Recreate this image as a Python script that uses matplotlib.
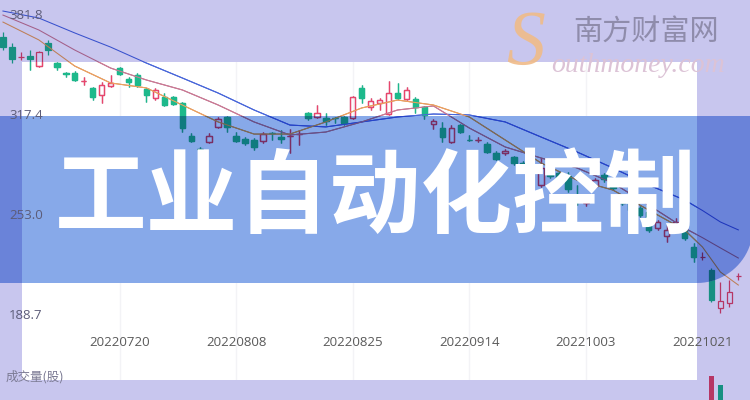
import numpy as np
import matplotlib
matplotlib.use('Agg')
import matplotlib.pyplot as plt
from matplotlib.patches import Rectangle, PathPatch
from matplotlib.path import Path
from matplotlib.colors import to_rgb

plt.rcParams['font.family'] = ['Open Sans', 'Noto Sans CJK SC', 'DejaVu Sans']

# 日K数据 (开, 高, 低, 收)
opens = [367.7, 361.2, 354.5, 355.5, 349.0, 363.8, 350.9, 344.2, 344.5, 339.2,
         334.9, 330.3, 336.1, 347.7, 340.6, 343.2, 334.2, 328.4, 329.1, 329.1,
         325.2, 304.0, 295.8, 300.1, 309.8, 316.2, 304.0, 302.0, 301.4, 300.7,
         306.0, 303.3, 303.8, 305.1, 318.8, 316.2, 315.5, 315.6, 316.2, 315.5,
         334.9, 322.6, 325.2, 318.1, 331.6, 327.8, 327.8, 322.6, 311.7, 309.1,
         300.1, 311.0, 301.6, 301.2, 298.8, 293.0, 293.0, 290.4, 286.6, 282.1,
         272.4, 282.1, 280.1, 278.2, 264.9, 260.7, 271.8, 278.9, 272.4, 264.7,
         260.8, 257.6, 255.0, 244.7, 239.6, 246.0, 243.5, 232.5, 226.0, 217.7,
         193.2, 196.5, 213.6]
highs = [370.9, 363.8, 358.0, 359.3, 358.7, 365.8, 351.6, 345.2, 345.8, 341.9,
         335.5, 338.7, 343.2, 348.4, 341.9, 344.5, 334.9, 334.9, 331.6, 329.7,
         325.8, 305.9, 296.9, 305.9, 316.2, 316.8, 306.5, 303.3, 302.7, 306.5,
         306.5, 307.8, 308.5, 307.8, 319.4, 323.9, 318.8, 316.2, 316.8, 329.7,
         336.8, 328.4, 328.4, 339.4, 338.1, 335.5, 329.1, 323.3, 314.9, 313.0,
         311.0, 311.7, 304.6, 303.3, 300.1, 294.3, 295.6, 291.1, 287.9, 286.6,
         289.8, 283.4, 281.4, 280.8, 272.4, 264.0, 276.9, 280.1, 274.3, 266.0,
         262.8, 258.9, 256.3, 250.0, 246.7, 251.1, 244.7, 235.1, 229.3, 219.0,
         210.0, 211.3, 215.8]
lows = [359.3, 350.9, 352.9, 346.4, 348.4, 356.1, 346.4, 341.9, 339.4, 336.8,
        327.1, 325.2, 335.5, 343.2, 335.5, 335.5, 325.8, 327.1, 323.3, 323.9,
        306.5, 300.1, 291.7, 299.5, 309.1, 306.5, 300.1, 298.2, 294.9, 299.5,
        301.4, 299.5, 293.0, 298.2, 314.3, 315.5, 311.0, 312.3, 311.0, 314.9,
        325.2, 320.7, 320.7, 317.5, 327.8, 327.1, 318.8, 314.9, 308.5, 300.1,
        299.5, 305.9, 300.7, 300.1, 293.0, 288.5, 291.7, 285.3, 282.1, 280.8,
        271.1, 276.9, 275.6, 267.9, 259.5, 258.9, 270.5, 274.3, 269.2, 259.5,
        255.0, 251.8, 242.2, 243.5, 235.7, 243.5, 237.0, 222.8, 224.1, 197.1,
        190.0, 193.9, 211.3]
closes = [361.2, 353.5, 354.9, 353.5, 358.0, 359.3, 348.4, 343.9, 340.0, 339.5,
          329.1, 336.8, 338.1, 343.9, 338.7, 336.8, 330.3, 333.6, 323.9, 324.6,
          309.1, 300.7, 295.5, 304.0, 314.9, 309.8, 300.7, 299.5, 296.9, 305.2,
          305.7, 302.0, 304.1, 305.4, 315.5, 318.8, 313.6, 315.4, 312.3, 329.1,
          328.4, 326.5, 327.1, 331.6, 328.4, 333.6, 322.6, 317.5, 313.6, 303.3,
          309.1, 306.5, 301.3, 301.5, 293.7, 289.2, 294.3, 286.6, 283.4, 285.3,
          283.4, 278.2, 276.9, 269.8, 264.6, 261.0, 275.6, 276.3, 270.5, 260.8,
          256.3, 253.1, 243.5, 248.6, 243.5, 248.6, 238.3, 226.1, 226.3, 198.4,
          197.7, 203.5, 214.0]

# 均线 (读图取点)
ma_idx = [0, 4, 8, 12, 16, 20, 24, 28, 32, 36, 40, 44, 48, 52, 56, 60, 64, 68, 72, 76, 78, 80, 82]
ma5 = [377.3, 365.8, 349.0, 338.1, 334.9, 323.9, 313.0, 305.2, 305.2, 313.0, 322.0, 327.1,
       323.9, 316.2, 301.4, 286.6, 275.6, 269.2, 256.3, 243.5, 232.5, 216.4, 208.0]
ma10 = [381.8, 372.2, 359.3, 347.7, 340.0, 333.6, 323.9, 313.0, 304.6, 306.5, 313.0, 320.7,
        323.3, 309.1, 296.9, 289.8, 283.4, 273.7, 259.5, 244.7, 238.5, 231.9, 225.4]
ma20 = [384.4, 379.9, 370.3, 361.2, 350.9, 341.3, 331.6, 320.7, 311.0, 309.8, 313.0, 316.2,
        318.1, 317.5, 313.0, 303.3, 293.7, 283.4, 272.4, 262.8, 256.0, 248.6, 243.5]

# 成交量 (只露出两根)
vol_idx = [79, 80]
vol_vals = [5.6e6, 4.7e6]
vol_up = [True, False]

ytick_vals = [381.8, 317.4, 253.0, 188.7]
date_idx = [13, 26, 39, 52, 65, 78]
date_labels = ['20220720', '20220808', '20220825', '20220914', '20221003', '20221021']

RED = '#e8466c'
GREEN = '#1db98b'
C_MA5 = '#f2a25c'
C_MA10 = '#d07a92'
C_MA20 = '#4868dc'
LAV = '#c8c6ee'
BAN = '#87a9e9'


def tint(c, t):
    a, b = to_rgb(c), to_rgb(t)
    return (a[0] * b[0], a[1] * b[1], a[2] * b[2])


def fx(x):
    return x / 750


def fy(y):
    return 1 - y / 400


fig = plt.figure(figsize=(7.5, 4), dpi=100)
fig.patch.set_facecolor(LAV)
ax = fig.add_axes([0, 0, 1, 1])
ax.set_facecolor('none')
ax.axis('off')
ax.set_xlim(-0.33, 83.3)
ax.set_ylim(134.0, 391.5)

# 区域: 白底, 横幅
white_clip = Rectangle((fx(22), fy(380)), fx(675), 318 / 400, transform=fig.transFigure)
band_clip = Rectangle((fx(22), fy(283)), fx(675), 167 / 400, transform=fig.transFigure)
t = np.linspace(0, np.pi / 2, 24)
pts = [(-5, 116), (753, 116)] + [(697 + 56 * np.cos(a), 227 + 56 * np.sin(a)) for a in t] + [(-5, 283), (-5, 116)]
codes = [Path.MOVETO] + [Path.LINETO] * (len(pts) - 2) + [Path.CLOSEPOLY]
banner_path = Path([(fx(x), fy(y)) for x, y in pts], codes)
banner_clip = PathPatch(banner_path, transform=fig.transFigure)

ax.add_patch(Rectangle((fx(22), fy(380)), fx(675), 318 / 400, transform=fig.transFigure,
                       facecolor='white', edgecolor='none', zorder=1))
ax.add_patch(PathPatch(banner_path, transform=fig.transFigure,
                       facecolor=tint(BAN, LAV), edgecolor='none', zorder=4))
ax.add_patch(Rectangle((fx(22), fy(283)), fx(675), 167 / 400, transform=fig.transFigure,
                       facecolor=BAN, edgecolor='none', zorder=4.5))

# 淡竖网格
for i in date_idx:
    ln = ax.axvline(i, color='#f3f3f6', lw=1, zorder=1.2)
    ln.set_clip_path(white_clip)


def draw_k(t_col, clip, z):
    arts = []
    up = [c >= o for o, c in zip(opens, closes)]
    xs = np.arange(len(opens))
    segs_x, y0, y1, cols = [], [], [], []
    for i in xs:
        lo, hi = min(opens[i], closes[i]), max(opens[i], closes[i])
        col = tint(RED if up[i] else GREEN, t_col)
        segs_x += [i, i]
        y0 += [lows[i], hi]
        y1 += [lo, highs[i]]
        cols += [col, col]
    arts.append(ax.vlines(segs_x, y0, y1, colors=cols, lw=0.9))
    bottoms = [min(o, c) for o, c in zip(opens, closes)]
    heights = [max(abs(c - o), 0.35) for o, c in zip(opens, closes)]
    faces = ['none' if u else tint(GREEN, t_col) for u in up]
    edges = [tint(RED if u else GREEN, t_col) for u in up]
    bars = ax.bar(xs, heights, bottom=bottoms, width=0.62, color=faces,
                  edgecolor=edges, linewidth=0.9)
    arts += list(bars)
    for vals, c in [(ma20, C_MA20), (ma10, C_MA10), (ma5, C_MA5)]:
        arts += ax.plot(ma_idx, vals, color=tint(c, t_col), lw=0.75)
    for a in arts:
        a.set_zorder(z)
        if clip is not None:
            a.set_clip_path(clip)


draw_k(LAV, None, 2)
draw_k('#ffffff', white_clip, 3)
draw_k(tint(BAN, LAV), banner_clip, 5)
draw_k(BAN, band_clip, 6)

# 成交量
vax = fig.add_axes([0, 0, 1, 0.07])
vax.set_facecolor('none')
vax.axis('off')
vax.set_xlim(-0.33, 83.3)
vax.set_ylim(3.2e6, 6.0e6)
vax.bar(vol_idx, vol_vals, width=0.62,
        color=[tint(RED if u else GREEN, LAV) for u in vol_up])

# 刻度文字
for v in ytick_vals:
    ax.text(fx(9), v, f'{v:.1f}', transform=ax.get_yaxis_transform(),
            ha='left', va='center', fontsize=9.5, color='#5c5c78', zorder=8)
for i, lab in zip(date_idx, date_labels):
    ax.text(i, fy(343), lab, transform=ax.get_xaxis_transform(),
            ha='center', va='center', fontsize=9.5, color='#5a5a5a', zorder=8)
ax.text(fx(6), fy(377), '成交量(股)', transform=fig.transFigure, ha='left', va='center',
        fontsize=9, color='#7c7b94', family=['Noto Sans CJK SC', 'DejaVu Sans'], zorder=8)

# 水印
ax.text(fx(526), fy(45), 'S', transform=fig.transFigure, ha='center', va='center',
        fontsize=56, style='italic', family='Liberation Serif', color='#f0bb88', alpha=0.9, zorder=7)
ax.text(fx(646), fy(33), '南方财富网', transform=fig.transFigure, ha='center', va='center',
        fontsize=21, color='#8f8cab', family=['Noto Sans CJK SC', 'DejaVu Sans'], zorder=7)
ax.text(fx(638), fy(66), 'outhmoney.com', transform=fig.transFigure, ha='center', va='center',
        fontsize=20, style='italic', family='Liberation Serif', color='#dcc3d6', zorder=7)

# 标题
ax.text(fx(376), fy(199), '工业自动化控制', transform=fig.transFigure, ha='center', va='center',
        fontsize=66, fontweight='bold', color='white',
        family=['Noto Sans CJK SC', 'DejaVu Sans'], zorder=10)

fig.savefig('out.png', dpi=100, facecolor=LAV)
